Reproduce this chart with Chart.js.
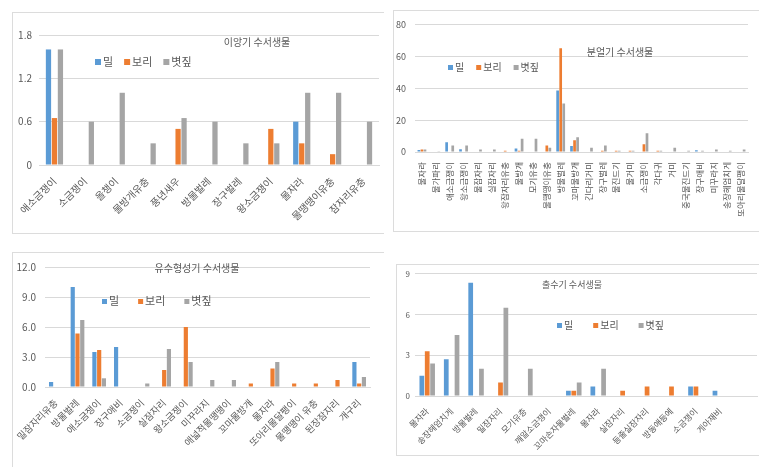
<!DOCTYPE html>
<html>
<head>
<meta charset="utf-8">
<script src="https://cdn.jsdelivr.net/npm/chart.js@4.4.0/dist/chart.umd.min.js"></script>
<style>
  body { margin: 0; width: 759px; height: 467px; overflow: hidden; background: #fff; position: relative; }
  .box { position: absolute; border: 1px solid #dcdcdc; box-sizing: border-box; }
  .open { border-right: none; }
  canvas { position: absolute; }
</style>
</head>
<body>
<div class="box open" style="left:12px;top:12px;width:372px;height:222px"></div>
<div class="box" style="left:393px;top:10px;width:380px;height:222px"></div>
<div class="box open" style="left:12px;top:252px;width:372px;height:240px"></div>
<div class="box" style="left:396px;top:264px;width:380px;height:192px"></div>

<canvas id="c1" width="376" height="220" style="left:12px;top:12px"></canvas>
<canvas id="c2" width="366" height="220" style="left:393px;top:10px"></canvas>
<canvas id="c3" width="370" height="215" style="left:12px;top:252px"></canvas>
<canvas id="c4" width="363" height="191" style="left:396px;top:264px"></canvas>

<script>
// series
const seriesNames = ['밀', '보리', '볏짚'];
const seriesColors = ['#5b9bd5', '#ed7d31', '#a5a5a5'];

// 이앙기
const transplantLabels = ['애소금쟁이', '소금쟁이', '올챙이', '물방개유충', '풍년새우', '방물벌레', '장구벌레', '왕소금쟁이', '물자라', '물땡땡이유충', '잠자리유충'];
const transplantWheat  = [1.6, 0, 0, 0, 0, 0, 0, 0, 0.6, 0, 0];
const transplantBarley = [0.65, 0, 0, 0, 0.5, 0, 0, 0.5, 0.3, 0.15, 0];
const transplantStraw  = [1.6, 0.6, 1.0, 0.3, 0.65, 0.6, 0.3, 0.3, 1.0, 1.0, 0.6];

// 분얼기
const tilleringLabels = ['물자라', '물가파리', '애소금쟁이', '왕소금쟁이', '물잠자리', '실잠자리', '왕잠자리유충', '물방개', '모기유충', '물땡땡이유충', '방물벌레', '꼬마물방개', '긴다리거미', '장구벌레', '물진드기', '물거미', '소금쟁이', '각다귀', '거미', '중국물진드기', '장구애비', '미꾸라지', '송장헤엄치게', '또아리물달팽이'];
const tilleringWheat  = [1.2, 0, 6.1, 1.8, 0, 0, 0, 2.2, 0, 0, 38.5, 3.7, 0, 0, 0, 0, 0, 0, 0, 0, 1.1, 0, 0, 0];
const tilleringBarley = [1.6, 0, 0, 0, 0, 0, 0.8, 0.8, 0, 4.1, 65, 7.3, 0, 0.8, 0.8, 0.8, 4.9, 0.8, 0, 0, 0, 0, 0, 0];
const tilleringStraw  = [1.6, 0.4, 4, 4, 1.6, 1.6, 0, 8.3, 8.3, 2.6, 30.4, 9.3, 2.6, 4, 0.8, 0.8, 11.7, 0.8, 2.6, 0.8, 0.8, 1.6, 0.8, 1.6];

// 유수형성기
const panicleLabels = ['밀잠자리유충', '방물벌레', '애소금쟁이', '장구애비', '소금쟁이', '실잠자리', '왕소금쟁이', '미꾸라지', '애넓적물땡땡이', '꼬마물방개', '물자라', '또아리물달팽이', '물땡땡이 유충', '된장잠자리', '개구리'];
const panicleWheat  = [0.5, 10, 3.5, 4.0, 0, 0, 0, 0, 0, 0, 0, 0, 0, 0, 2.5];
const panicleBarley = [0, 5.35, 3.7, 0, 0, 1.7, 6.0, 0, 0, 0.35, 1.85, 0.35, 0.35, 0.7, 0.35];
const panicleStraw  = [0, 6.7, 0.87, 0, 0.35, 3.8, 2.5, 0.7, 0.7, 0, 2.5, 0, 0, 0, 1.0];

// 출수기
const headingLabels = ['물자라', '송장헤엄치게', '방물벌레', '밀잠자리', '모기유충', '깨알소금쟁이', '꼬마손자물벌레', '물자라', '실잠자리', '등줄실잠자리', '방동애등에', '소금쟁이', '게아재비', ''];
const headingWheat  = [1.5, 2.7, 8.35, 0, 0, 0, 0.38, 0.7, 0, 0, 0, 0.7, 0.38, 0];
const headingBarley = [3.3, 0, 0, 1.0, 0, 0, 0.38, 0, 0.38, 0.7, 0.7, 0.7, 0, 0];
const headingStraw  = [2.4, 4.5, 2.0, 6.5, 2.0, 0, 1.0, 2.0, 0, 0, 0, 0, 0, 0];

const FONT = '"Noto Sans CJK KR", "Noto Sans", sans-serif';
const TEXT = '#595959';

// title + legend drawn inside the plot, like the Excel originals
const overlay = {
  id: 'overlay',
  afterDraw(chart, args, o) {
    const ctx = chart.ctx;
    ctx.save();
    ctx.fillStyle = TEXT;
    ctx.font = o.titleSize + 'px ' + FONT;
    ctx.textAlign = 'center';
    ctx.textBaseline = 'middle';
    ctx.fillText(o.title, o.tx, o.ty);
    ctx.textAlign = 'left';
    ctx.font = o.legendSize + 'px ' + FONT;
    let x = o.lx;
    chart.data.datasets.forEach(ds => {
      ctx.fillStyle = ds.backgroundColor;
      ctx.fillRect(x, Math.round(o.ly - o.box / 2), o.box, o.box);
      ctx.fillStyle = TEXT;
      ctx.fillText(ds.label, x + o.box + 2, o.ly);
      x += o.box + 2 + ctx.measureText(ds.label).width + o.gap;
    });
    ctx.restore();
  }
};

function makeChart(id, labels, series, o) {
  new Chart(document.getElementById(id), {
    type: 'bar',
    data: {
      labels: labels,
      datasets: series.map((data, i) => ({
        label: seriesNames[i],
        data: data,
        backgroundColor: seriesColors[i],
        categoryPercentage: o.cp,
        barPercentage: 0.88
      }))
    },
    options: {
      responsive: false,
      animation: false,
      layout: { padding: { top: o.top, right: o.right, left: 0, bottom: 0 } },
      plugins: {
        legend: { display: false },
        tooltip: { enabled: false },
        overlay: o.overlay
      },
      scales: {
        x: {
          grid: { display: false },
          border: { display: true, color: '#d9d9d9' },
          ticks: {
            autoSkip: false,
            minRotation: o.rot,
            maxRotation: o.rot,
            color: TEXT,
            padding: 2,
            font: { family: FONT, size: o.xFont }
          },
          afterFit: s => { s.height = o.xh; }
        },
        y: {
          min: 0,
          max: o.max,
          ticks: {
            stepSize: o.step,
            color: TEXT,
            padding: o.yPad,
            font: { family: FONT, size: o.yFont },
            callback: o.fmt || (v => String(Math.round(v * 10) / 10))
          },
          grid: { color: '#d9d9d9', drawTicks: false },
          border: { display: false },
          afterFit: s => { s.width = o.yw; }
        }
      }
    },
    plugins: [overlay]
  });
}

makeChart('c1', transplantLabels, [transplantWheat, transplantBarley, transplantStraw], {
  max: 1.8, step: 0.6, top: 23, right: 9, yw: 27, xh: 67, rot: 45, cp: 0.58,
  xFont: 10, yFont: 10, yPad: 7,
  overlay: { title: '이앙기 수서생물', titleSize: 10, tx: 245, ty: 30, lx: 83, ly: 50, box: 6, legendSize: 11, gap: 11 }
});

makeChart('c2', tilleringLabels, [tilleringWheat, tilleringBarley, tilleringStraw], {
  max: 80, step: 20, top: 7, right: 11, yw: 22, xh: 78, rot: 90, cp: 0.66,
  xFont: 8.5, yFont: 9, yPad: 9,
  overlay: { title: '분얼기 수서생물', titleSize: 10, tx: 227, ty: 42, lx: 55, ly: 57, box: 5, legendSize: 10, gap: 12 }
});

makeChart('c3', panicleLabels, [panicleWheat, panicleBarley, panicleStraw], {
  max: 12, step: 3, top: 6, right: 12, yw: 33, xh: 80, rot: 45, cp: 0.66,
  xFont: 9.5, yFont: 10, yPad: 9, fmt: v => v.toFixed(1),
  overlay: { title: '유수형성기 수서생물', titleSize: 10, tx: 185, ty: 16, lx: 90, ly: 49, box: 5, legendSize: 11, gap: 19 }
});

makeChart('c4', headingLabels, [headingWheat, headingBarley, headingStraw], {
  max: 9, step: 3, top: 4, right: 2, yw: 19, xh: 59, rot: 45, cp: 0.66,
  xFont: 8.5, yFont: 8, yPad: 5,
  overlay: { title: '출수기 수서생물', titleSize: 9, tx: 176, ty: 21, lx: 161, ly: 61, box: 5, legendSize: 10, gap: 20 }
});
</script>
</body>
</html>
